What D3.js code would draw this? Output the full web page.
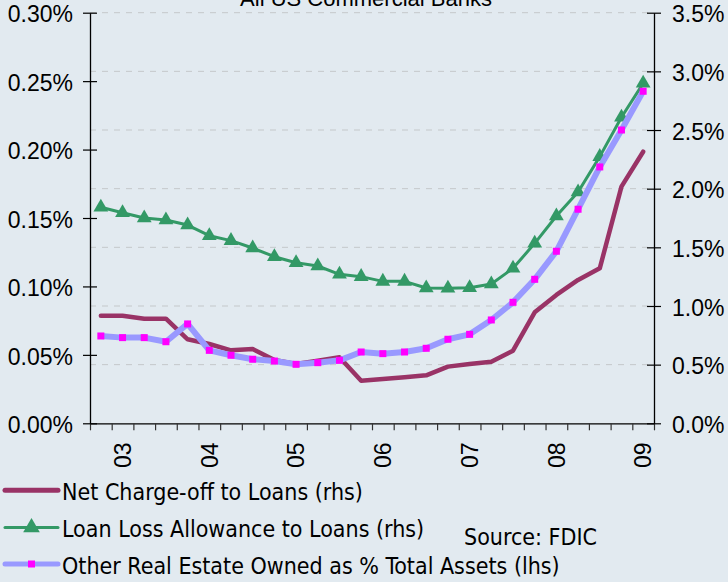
<!DOCTYPE html>
<html>
<head>
<meta charset="utf-8">
<script src="https://cdn.jsdelivr.net/npm/d3@7"></script>
<style>
  html, body { margin: 0; padding: 0; background: #e2eaf0; }
  svg { display: block; }
</style>
</head>
<body>
<svg id="chart" width="728" height="582"></svg>
<script>
// ---- Data (quarterly, 2002Q4 .. 2009Q1) ----
const quarters = ["2002Q4","2003Q1","2003Q2","2003Q3","2003Q4","2004Q1","2004Q2","2004Q3","2004Q4",
  "2005Q1","2005Q2","2005Q3","2005Q4","2006Q1","2006Q2","2006Q3","2006Q4","2007Q1","2007Q2","2007Q3",
  "2007Q4","2008Q1","2008Q2","2008Q3","2008Q4","2009Q1"];
// Net charge-off to loans (%; right axis)
const netChargeOff = [0.917,0.917,0.892,0.892,0.716,0.676,0.622,0.633,0.540,0.506,0.534,0.563,0.363,
  0.378,0.392,0.409,0.483,0.506,0.525,0.619,0.946,1.094,1.222,1.321,2.017,2.315];
// Loan loss allowance to loans (%; right axis)
const loanLossAllowance = [1.841,1.795,1.750,1.733,1.690,1.599,1.557,1.494,1.420,1.369,1.341,1.270,1.250,
  1.210,1.210,1.153,1.151,1.156,1.188,1.321,1.534,1.767,1.972,2.273,2.609,2.898];
// Other real estate owned as % of total assets (%; left axis)
const oreo = [0.0638,0.0626,0.0626,0.0596,0.0726,0.0533,0.0497,0.0468,0.0455,0.0431,0.0443,0.0460,0.0521,
  0.0509,0.0521,0.0548,0.0614,0.0650,0.0755,0.0884,0.1052,0.1257,0.1564,0.1873,0.2143,0.2426];
const leftTicks = [0, 0.05, 0.10, 0.15, 0.20, 0.25, 0.30];
const rightTicks = [0, 0.5, 1.0, 1.5, 2.0, 2.5, 3.0, 3.5];
const seriesNames = ["Net Charge-off to Loans (rhs)", "Loan Loss Allowance to Loans (rhs)",
  "Other Real Estate Owned as % Total Assets (lhs)"];
const titleText = "All US Commercial Banks";
const sourceText = "Source: FDIC";

// ---- Layout ----
const W = 728, H = 582;
const plot = { left: 90, right: 654, top: 12.7, bottom: 423.3 };
const bg = "#e2eaf0";
const numFont = "'Liberation Sans', Arial, sans-serif";
const legFont = "'DejaVu Sans Condensed', 'DejaVu Sans', sans-serif";
const cNet = "#993366", cLLA = "#339966", cOreo = "#9999ff", cOreoMk = "#ff00ff";

const svg = d3.select("#chart");
svg.append("rect").attr("width", W).attr("height", H).attr("fill", bg);

const x = d3.scaleBand().domain(quarters).range([plot.left, plot.right]).padding(0);
const xEdge = d3.scaleLinear().domain([0, quarters.length]).range([plot.left, plot.right]);
const yL = d3.scaleLinear().domain([0, 0.30]).range([plot.bottom, plot.top]);
const yR = d3.scaleLinear().domain([0, 3.5]).range([plot.bottom, plot.top]);
const cx = q => x(q) + x.bandwidth() / 2;

// gridlines (right-axis majors)
svg.append("g").selectAll("line").data(rightTicks.filter(t => t > 0)).join("line")
  .attr("x1", plot.left).attr("x2", plot.right)
  .attr("y1", d => yR(d)).attr("y2", d => yR(d))
  .attr("stroke", "#c4c8ca").attr("stroke-width", 1).attr("stroke-dasharray", "6,6");

// x axis with tick marks at category boundaries
const gx = svg.append("g").attr("transform", `translate(0,${plot.bottom})`)
  .call(d3.axisBottom(xEdge).tickValues(d3.range(quarters.length + 1)).tickFormat("").tickSize(7).tickSizeOuter(0));
gx.select(".domain").attr("stroke", "#000").attr("stroke-width", 1.3);
gx.selectAll(".tick line").attr("stroke", "#333").attr("stroke-width", 1.2);

// x labels: year at each Q1
svg.append("g").selectAll("text").data(quarters.filter(q => q.endsWith("Q1"))).join("text")
  .attr("transform", d => `translate(${cx(d)},442.5) rotate(-90)`)
  .attr("dy", "0.36em").attr("text-anchor", "end")
  .style("font-family", numFont).style("font-size", "23px").attr("fill", "#000")
  .text(d => d.slice(2, 4));

// left axis
const gl = svg.append("g").attr("transform", `translate(${plot.left},0)`)
  .call(d3.axisLeft(yL).tickValues(leftTicks).tickFormat(d => d3.format(".2f")(d) + "%")
    .tickSize(7).tickPadding(10).tickSizeOuter(0));
gl.select(".domain").attr("stroke", "#000").attr("stroke-width", 1.3);
gl.selectAll(".tick line").attr("x1", 7).attr("x2", -7).attr("stroke", "#000").attr("stroke-width", 1.2);
gl.selectAll(".tick text").style("font-family", numFont).style("font-size", "23px").attr("fill", "#000").attr("dy", "0.4em");

// right axis
const gr = svg.append("g").attr("transform", `translate(${plot.right},0)`)
  .call(d3.axisRight(yR).tickValues(rightTicks).tickFormat(d => d3.format(".1f")(d) + "%")
    .tickSize(7).tickPadding(11).tickSizeOuter(0));
gr.select(".domain").attr("stroke", "#000").attr("stroke-width", 1.3);
gr.selectAll(".tick line").attr("x1", -7).attr("x2", 7).attr("stroke", "#000").attr("stroke-width", 1.2);
gr.selectAll(".tick text").style("font-family", numFont).style("font-size", "23px").attr("fill", "#000").attr("dy", "0.4em");

// series
const lineR = vals => d3.line().x((d, i) => cx(quarters[i])).y(d => yR(d))(vals);
const lineL = vals => d3.line().x((d, i) => cx(quarters[i])).y(d => yL(d))(vals);

svg.append("path").attr("d", lineR(netChargeOff)).attr("fill", "none")
  .attr("stroke", cNet).attr("stroke-width", 4.5).attr("stroke-linejoin", "round").attr("stroke-linecap", "round");

svg.append("path").attr("d", lineR(loanLossAllowance)).attr("fill", "none")
  .attr("stroke", cLLA).attr("stroke-width", 3).attr("stroke-linejoin", "round");
const tri = d3.symbol().type(d3.symbolTriangle).size(95);
svg.append("g").selectAll("path").data(loanLossAllowance).join("path")
  .attr("d", tri).attr("transform", (d, i) => `translate(${cx(quarters[i])},${yR(d)})`)
  .attr("fill", cLLA);

svg.append("path").attr("d", lineL(oreo)).attr("fill", "none")
  .attr("stroke", cOreo).attr("stroke-width", 6).attr("stroke-linejoin", "round");
svg.append("g").selectAll("rect").data(oreo).join("rect")
  .attr("x", (d, i) => cx(quarters[i]) - 3.5).attr("y", d => yL(d) - 3.5)
  .attr("width", 7).attr("height", 7).attr("fill", cOreoMk);

// title (partly clipped at top, as in the original)
svg.append("text").attr("x", 366).attr("y", 5.5).attr("text-anchor", "middle")
  .style("font-family", numFont).style("font-size", "22px").attr("fill", "#000").text(titleText);

// legend
const legY = [490.3, 527.5, 564];
const lg = svg.append("g");
legY.forEach((y, i) => {
  const color = [cNet, cLLA, cOreo][i];
  const sw = [5, 3, 5][i];
  lg.append("line").attr("x1", 5).attr("x2", 58).attr("y1", y).attr("y2", y)
    .attr("stroke", color).attr("stroke-width", sw).attr("stroke-linecap", "round");
  if (i === 1) {
    lg.append("path").attr("d", d3.symbol().type(d3.symbolTriangle).size(120))
      .attr("transform", `translate(31.5,${y})`).attr("fill", cLLA);
  }
  if (i === 2) {
    lg.append("rect").attr("x", 28).attr("y", y - 3.5).attr("width", 7).attr("height", 7).attr("fill", cOreoMk);
  }
  lg.append("text").attr("x", 62).attr("y", y + 9.8)
    .style("font-family", legFont).style("font-size", "23px").attr("fill", "#000")
    .text(seriesNames[i]);
});
svg.append("text").attr("x", 464).attr("y", 544.5)
  .style("font-family", legFont).style("font-size", "23px").attr("fill", "#000").text(sourceText);
</script>
</body>
</html>
